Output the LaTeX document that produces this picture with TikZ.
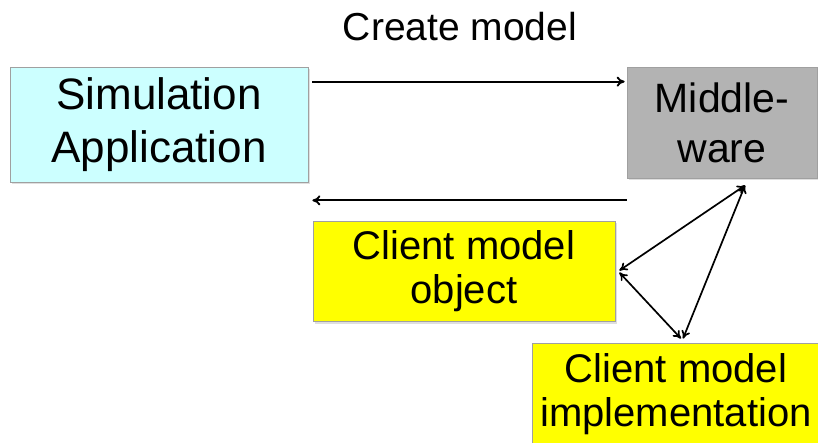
\documentclass[tikz,border=0pt]{standalone}
\usepackage{fontspec}
\setmainfont{Liberation Sans}
\usetikzlibrary{shadows,arrows.meta}
\definecolor{simcyan}{HTML}{CCFFFF}
\definecolor{mwgray}{HTML}{B3B3B3}
\definecolor{clientyellow}{HTML}{FFFF00}
\definecolor{edgegray}{HTML}{A0A0A0}
\tikzset{
  box/.style={draw=edgegray, line width=0.8pt, align=center, inner sep=0pt,
    drop shadow={opacity=0.25, shadow xshift=2pt, shadow yshift=-2pt}},
  link/.style={line width=1.9pt, -{To[length=8pt,width=10pt]}},
  duplex/.style={line width=1.7pt, {To[length=8pt,width=9pt]}-{To[length=8pt,width=9pt]}}
}
\begin{document}
\begin{tikzpicture}[x=1pt, y=-1pt]
  \useasboundingbox (0,0) rectangle (818,443);
  % title of the upper connector
  \node (title) at (460,27) {\fontsize{39}{45}\selectfont Create model};
  % boxes
  \node[box, fill=simcyan, minimum width=298pt, minimum height=115pt,
        font=\fontsize{44}{53}\selectfont] (sim) at (159,124.5) {Simulation\\Application};
  \node[box, fill=mwgray, minimum width=190pt, minimum height=111pt,
        font=\fontsize{41}{50}\selectfont] (mw) at (722,122.5) {Middle-\\ware};
  \node[box, fill=clientyellow, minimum width=302pt, minimum height=100pt,
        font=\fontsize{40}{44}\selectfont] (cmo) at (464,271.5) {Client model\\object};
  \node[box, fill=clientyellow, minimum width=288pt, minimum height=102pt,
        font=\fontsize{40}{44}\selectfont] (impl) at (676,394) {Client model\\implementation};
  % connectors
  \draw[link] ([xshift=4pt, yshift=-15pt]sim.north east) -- ([xshift=-2pt, yshift=-15pt]mw.north west);
  \draw[link] ([yshift=-22pt]mw.south west) -- ([xshift=4pt, yshift=-18pt]sim.south east);
  \draw[duplex] ([xshift=4pt, yshift=1pt]cmo.east) -- ([xshift=23pt, yshift=-7pt]mw.south);
  \draw[duplex] ([xshift=4pt, yshift=-1pt]cmo.east) -- ([xshift=5pt, yshift=4pt]impl.north);
  \draw[duplex] ([xshift=7pt, yshift=4pt]impl.north) -- ([xshift=23pt, yshift=-7pt]mw.south);
\end{tikzpicture}
\end{document}
